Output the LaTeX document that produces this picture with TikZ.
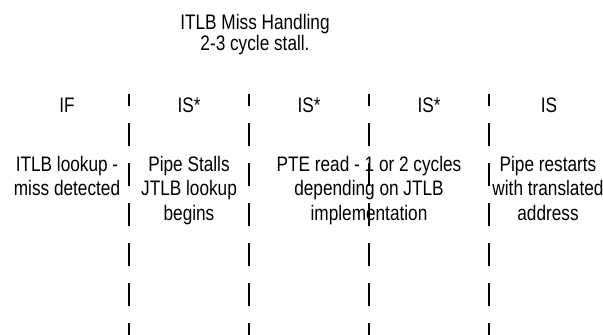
\documentclass[tikz,border=0pt]{standalone}
\usepackage{fontspec}
\setmainfont{Liberation Sans}[FakeStretch=0.82]
\usetikzlibrary{positioning}

\tikzset{stage/.style={font=\fontsize{21}{24.5}\selectfont, inner sep=0pt, anchor=base},
  note/.style={stage, align=center},
  headline/.style={note, font=\fontsize{21}{21}\selectfont},
  border/.style={line width=1.8pt, dash pattern=on 23pt off 17pt, dash phase=11pt}}

\begin{document}
\begin{tikzpicture}[x=1pt,y=-1pt]
  \useasboundingbox (0,0) rectangle (603,335);
  % title (base = last line)
  \node[headline] (title) at (255,50) {ITLB Miss Handling\\2-3 cycle stall.};
  % cycle boundaries
  \foreach \x/\n in {129/a,249/b,369/c,489/d}{
    \coordinate (top\n) at (\x,94);
    \coordinate (bot\n) at (\x,335);
    \draw[border] (top\n) -- (bot\n);
  }
  % pipe stages
  \node[stage] (if) at (67,112) {IF};
  \node[stage] (isa) at (189,112) {IS*};
  \node[stage] (isb) at (309,112) {IS*};
  \node[stage] (isc) at (429,112) {IS*};
  \node[stage] (isd) at (549,112) {IS};
  % what happens
  \node[note] (lookup) at (67,195.5) {ITLB lookup -\\miss detected};
  \node[note] (stall) at (189,220) {Pipe Stalls\\JTLB lookup\\begins};
  \node[note] (pte) at (369,220) {PTE read - 1 or 2 cycles\\depending on JTLB\\implementation};
  \node[note] (restart) at (548,220) {Pipe restarts\\with translated\\address};
\end{tikzpicture}
\end{document}
